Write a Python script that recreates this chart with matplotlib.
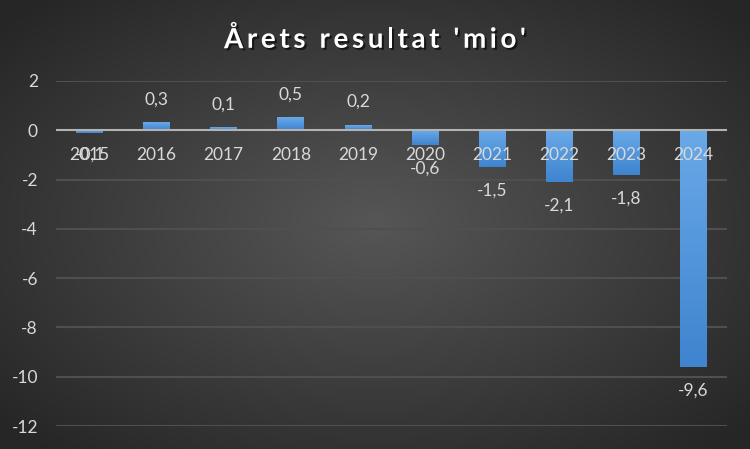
import numpy as np
import matplotlib.pyplot as plt
import matplotlib.patheffects as pe
from matplotlib.colors import LinearSegmentedColormap

#%% Data
years = ['2015', '2016', '2017', '2018', '2019', '2020', '2021', '2022', '2023', '2024']
result = [-0.1, 0.3, 0.1, 0.5, 0.2, -0.6, -1.5, -2.1, -1.8, -9.6]
labels = ['-0,1', '0,3', '0,1', '0,5', '0,2', '-0,6', '-1,5', '-2,1', '-1,8', '-9,6']
yticks = [2, 0, -2, -4, -6, -8, -10, -12]
title = "Årets resultat 'mio'"

plt.rcParams['font.family'] = ['Lato', 'DejaVu Sans']
txt = '#d9d9d9'

fig = plt.figure(figsize=(7.5, 4.49), dpi=100)

#%% Radial background
bg = fig.add_axes([0, 0, 1, 1], zorder=0)
gx, gy = np.meshgrid(np.linspace(-1, 1, 400), np.linspace(-1, 1, 240))
r = np.clip(np.sqrt(gx**2 + gy**2) / 1.35, 0, 1)
bg_cmap = LinearSegmentedColormap.from_list('bg', ['#565656', '#262626'])
bg.imshow(r, cmap=bg_cmap, aspect='auto', extent=[0, 1, 0, 1], vmin=0, vmax=1)
bg.axis('off')

#%% Chart
ax = fig.add_axes([0.0747, 0.0512, 0.8946, 0.7684], zorder=1)
ax.patch.set_alpha(0)
x = np.arange(len(years))
bars = ax.bar(x, result, width=0.4, color='none', zorder=3)

bar_cmap = LinearSegmentedColormap.from_list('bar', ['#3e84cf', '#6aa9e8'])
grad = np.linspace(0, 1, 100).reshape(-1, 1)
for b in bars:
    x0 = b.get_x()
    w = b.get_width()
    y0 = min(0, b.get_height())
    y1 = max(0, b.get_height())
    ax.imshow(grad, cmap=bar_cmap, origin='lower', aspect='auto',
              extent=[x0, x0 + w, y0, y1], zorder=3)

for yv in yticks:
    if yv == 0:
        continue
    ax.axhline(yv, color='#4f4f4f', lw=1.5, zorder=1)
ax.axhline(0, color='#b3b3b3', lw=1.5, zorder=4)

ax.set_xlim(-0.5, len(years) - 0.5)
ax.set_ylim(-12, 2)
ax.set_yticks(yticks)
ax.set_yticklabels([str(v) for v in yticks])
ax.tick_params(axis='y', length=0, colors=txt, labelsize=12.5, pad=13)
ax.set_xticks([])
for s in ax.spines.values():
    s.set_visible(False)

# category labels sit just below the zero line
for i, yr in enumerate(years):
    ax.annotate(yr, (i, 0), xytext=(0, -18), textcoords='offset points',
                ha='center', va='center', color=txt, fontsize=12.5, zorder=5)

# data labels (the 2015 one lands on top of the year, as in the original)
for i, (v, lab) in enumerate(zip(result, labels)):
    off = 17 if v >= 0 else -17
    if v < 0 and i == 0:
        off = -16
    ax.annotate(lab, (i, v), xytext=(0, off), textcoords='offset points',
                ha='center', va='center', color=txt, fontsize=12.5, zorder=5)

#%% Title with letter spacing
renderer = fig.canvas.get_renderer()
tkw = dict(fontsize=20, fontweight='bold')

def width_px(s):
    t = fig.text(0, 0, s, **tkw)
    w = t.get_window_extent(renderer).width
    t.remove()
    return w

spacing = 3.6
ref = width_px('x')
xpos = [width_px(title[:i] + 'x') - ref + i * spacing for i in range(len(title))]
total = xpos[-1] + width_px(title[-1])
start = 375 - total / 2
shadow = [pe.withSimplePatchShadow(offset=(1.5, -1.5), shadow_rgbFace='black', alpha=0.6)]
for ch, xp in zip(title, xpos):
    if ch == ' ':
        continue
    fig.text((start + xp) / 750, 0.917, ch, ha='left', va='center_baseline',
             color='white', path_effects=shadow, **tkw)

fig.savefig('out.png', dpi=100)
